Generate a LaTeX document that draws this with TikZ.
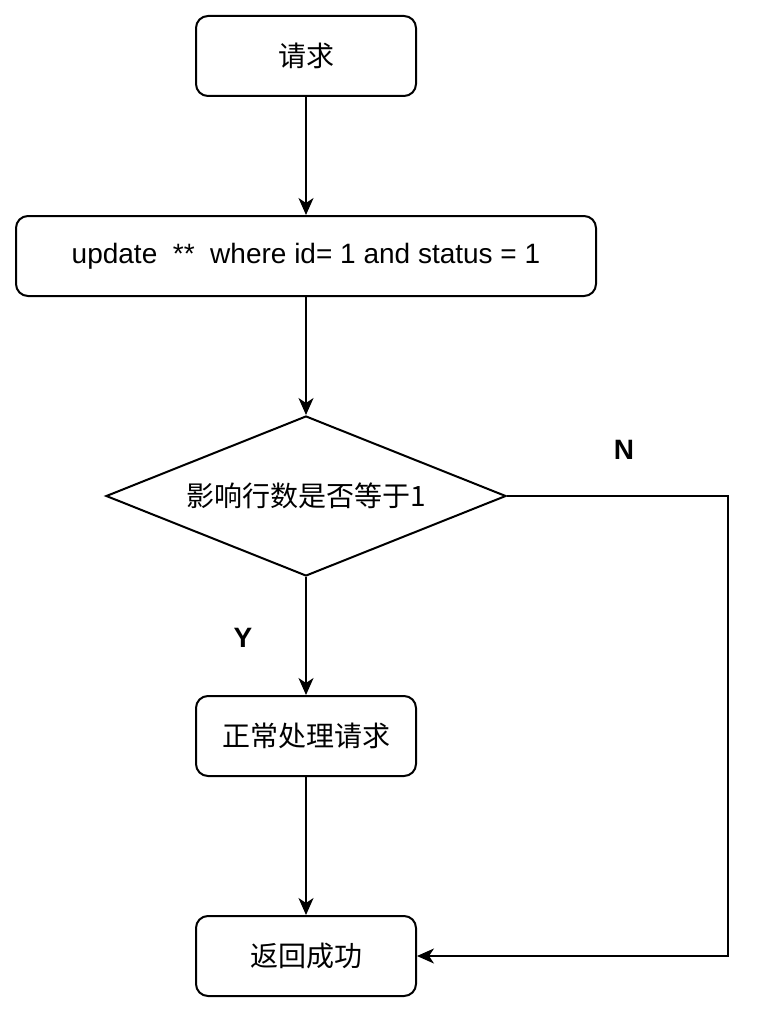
\documentclass[tikz,border=0pt]{standalone}
\usepackage{fontspec}
\setmainfont{Liberation Sans}
\newfontfamily\cjk{Noto Sans CJK SC}
\usetikzlibrary{arrows.meta,shapes.geometric}
\begin{document}
\begin{tikzpicture}[x=1pt,y=-1pt,
  txt/.style={font=\fontsize{28}{32}\selectfont},
  box/.style={txt,draw,line width=2pt,rounded corners=12pt,minimum width=220pt,minimum height=80pt,inner sep=0pt},
  dec/.style={txt,draw,line width=2pt,shape=diamond,aspect=2.5,minimum width=400pt,minimum height=160pt,inner sep=0pt},
  lbl/.style={font=\fontsize{28}{32}\selectfont\bfseries},
  arr/.style={line width=2pt,-{Stealth[length=17pt,width=15pt,inset=5pt]}}]
\useasboundingbox (0,0) rectangle (762,1014);
\node[box] (req) at (306,56) {\cjk 请求};
\node[box,minimum width=580pt] (upd) at (306,256) {update\ \ **\ \ where id= 1 and status = 1};
\node[dec] (dec) at (306,496) {\cjk 影响行数是否等于1};
\node[box] (proc) at (306,736) {\cjk 正常处理请求};
\node[box] (ok) at (306,956) {\cjk 返回成功};
\node[lbl] (n) at (624,450) {N};
\node[lbl] (y) at (243,638) {Y};
\coordinate (nr) at (728,496);
\draw[arr] (req) -- (upd);
\draw[arr] (upd) -- (dec);
\draw[arr] (dec) -- (proc);
\draw[arr] (proc) -- (ok);
\draw[arr] (dec.east) -- (nr) |- (ok.east);
\end{tikzpicture}
\end{document}
